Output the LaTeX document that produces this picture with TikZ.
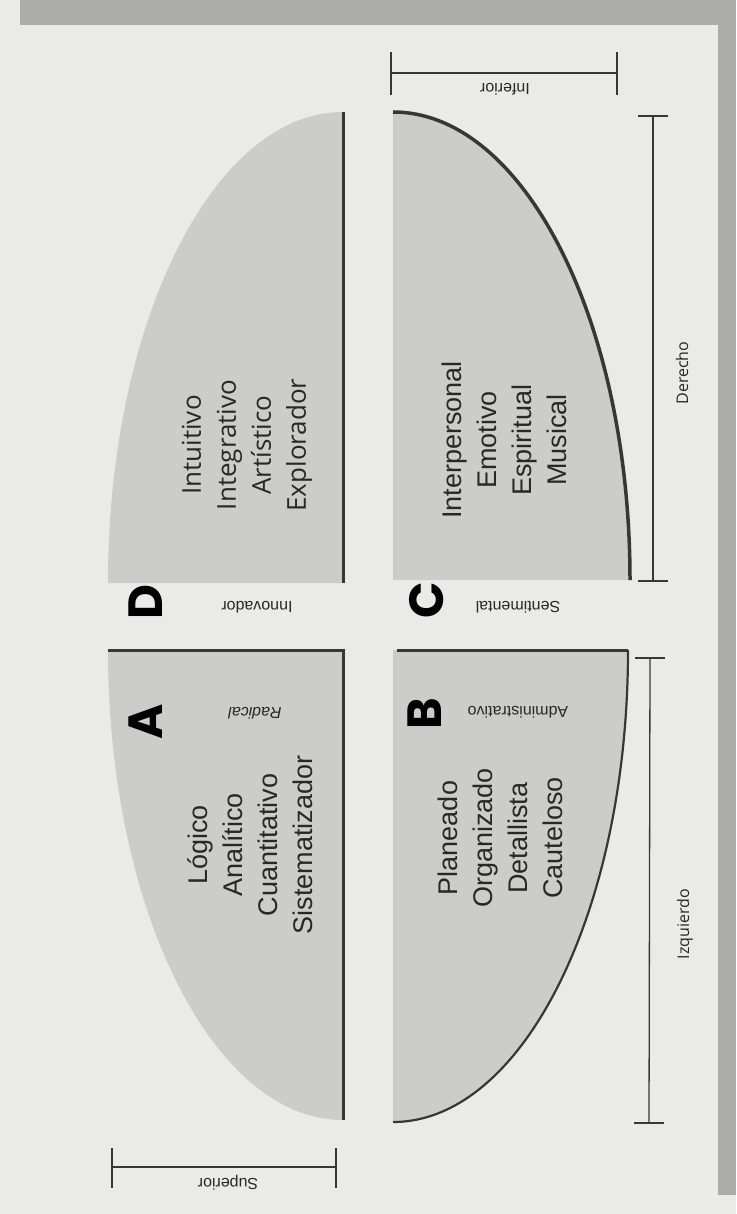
\documentclass[tikz,border=0pt]{standalone}
\usepackage{fontspec}
\setmainfont{Liberation Sans}
\newfontfamily\gillfont{Open Sans}
\newfontfamily\letterfont{Poppins}
\definecolor{pagebg}{RGB}{234,234,232}
\definecolor{stripgray}{RGB}{172,172,170}
\definecolor{quadfill}{RGB}{204,204,202}
\definecolor{ink}{RGB}{40,40,40}
\definecolor{edge}{RGB}{55,55,55}
\tikzset{
  quadrant/.style={fill=quadfill, draw=none},
  edgeline/.style={draw=edge, line width=3pt},
  arcline/.style={draw=edge, line width=3pt},
  bracketline/.style={draw=edge, line width=1.3pt},
  maintext/.style={font=\fontsize{27}{35}\selectfont, align=center, text=ink, inner sep=0pt},
  gilltext/.style={font=\gillfont\fontsize{26}{35}\selectfont, align=center, text=ink, inner sep=0pt},
  smalllabel/.style={font=\fontsize{16}{18}\selectfont, text=ink, inner sep=0pt, rotate=180},
  sidelabel/.style={font=\gillfont\fontsize{16}{18}\selectfont, text=ink, inner sep=0pt, rotate=90},
  biglabel/.style={font=\letterfont\bfseries\fontsize{48}{48}\selectfont, text=black, inner sep=0pt, rotate=90}
}
\begin{document}
\begin{tikzpicture}[x=1pt,y=1pt]
\useasboundingbox (0,0) rectangle (736,-1214);
\fill[pagebg] (0,0) rectangle (736,-1214);
\fill[stripgray] (20,0) rectangle (736,-25);
\fill[stripgray] (718,0) rectangle (736,-1195);

% quadrant D (upper left in image)
\fill[quadrant] (343,-583) -- (343,-112) arc[start angle=90, end angle=180, x radius=235, y radius=471] -- cycle;
\draw[edgeline] (343,-112) -- (343,-583);
% quadrant C
\fill[quadrant] (393,-580) -- (393,-112) arc[start angle=90, end angle=0, x radius=237, y radius=468] -- cycle;
\draw[arcline, line width=3.5pt] (393,-112) arc[start angle=90, end angle=0, x radius=237, y radius=468];
% quadrant A
\fill[quadrant] (343,-650) -- (108,-650) arc[start angle=180, end angle=270, x radius=235, y radius=470] -- cycle;
\draw[edgeline] (108,-650) -- (343,-650) -- (343,-1120);
% quadrant B
\fill[quadrant] (393,-650) -- (628,-650) arc[start angle=0, end angle=-90, x radius=235, y radius=472] -- cycle;
\draw[edgeline] (397,-650) -- (628,-650);
\draw[arcline, line width=2.2pt] (628,-650) arc[start angle=0, end angle=-90, x radius=235, y radius=472];

% main texts
\node[gilltext, rotate=90] (tD) at (247,-445) {Intuitivo\\Integrativo\\Artístico\\Explorador};
\node[maintext, rotate=90] (tC) at (504,-440) {Interpersonal\\Emotivo\\Espiritual\\Musical};
\node[maintext, rotate=90] (tA) at (250,-845) {Lógico\\Analítico\\Cuantitativo\\Sistematizador};
\node[maintext, rotate=90] (tB) at (500,-838) {Planeado\\Organizado\\Detallista\\Cauteloso};

% big letters
\node[biglabel] (lD) at (146,-602) {D};
\node[biglabel] (lA) at (146,-722) {A};
\node[biglabel] (lC) at (427,-600) {C};
\node[biglabel] (lB) at (425,-714) {B};

% small labels
\node[smalllabel] (sInn) at (257,-607) {Innovador};
\node[smalllabel] (sRad) at (255,-713) {\itshape Radical};
\node[smalllabel] (sSen) at (518,-607) {Sentimental};
\node[smalllabel] (sAdm) at (518,-712) {Administrativo};

% brackets
\coordinate (infL) at (391,-73);
\coordinate (infR) at (617,-73);
\draw[bracketline] (infL) -- (infR);
\draw[bracketline] ([yshift=21]infL) -- ([yshift=-22]infL);
\draw[bracketline] ([yshift=21]infR) -- ([yshift=-22]infR);
\node[smalllabel] (inf) at (505,-89) {Inferior};

\coordinate (supL) at (112,-1167);
\coordinate (supR) at (336,-1167);
\draw[bracketline] (supL) -- (supR);
\draw[bracketline] ([yshift=19]supL) -- ([yshift=-21]supL);
\draw[bracketline] ([yshift=19]supR) -- ([yshift=-21]supR);
\node[smalllabel] (sup) at (228,-1183) {Superior};

\coordinate (derT) at (653,-116);
\coordinate (derB) at (653,-581);
\draw[bracketline] (derT) -- (derB);
\draw[bracketline] ([xshift=-15]derT) -- ([xshift=15]derT);
\draw[bracketline] ([xshift=-15]derB) -- ([xshift=15]derB);
\node[sidelabel] (der) at (682,-373) {Derecho};

\coordinate (izqT) at (650,-658);
\coordinate (izqB) at (649,-1123);
\draw[bracketline] (izqT) -- (izqB);
\draw[bracketline] ([xshift=-15]izqT) -- ([xshift=15]izqT);
\draw[bracketline] ([xshift=-15]izqB) -- ([xshift=15]izqB);
\node[sidelabel] (izq) at (685,-924) {Izquierdo};
\end{tikzpicture}
\end{document}
